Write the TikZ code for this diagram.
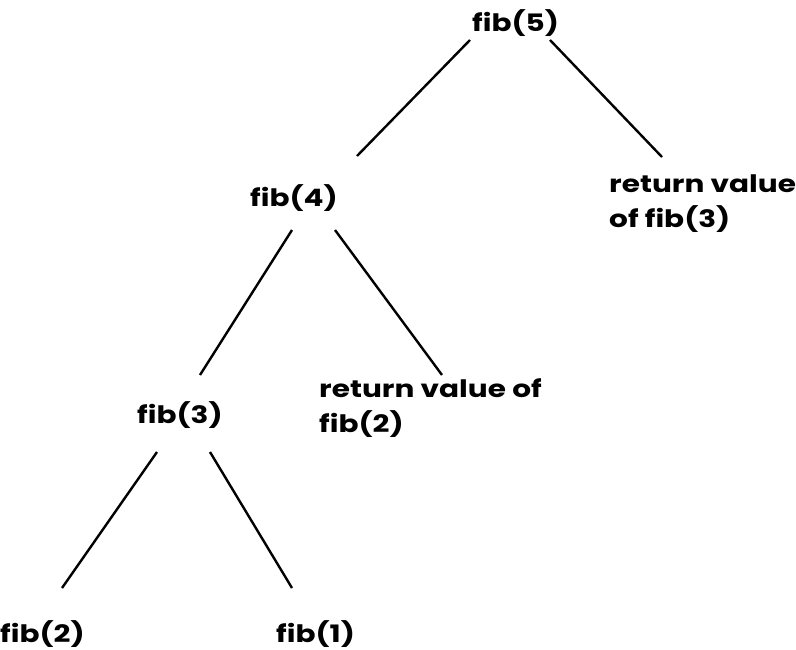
\documentclass[tikz,border=0pt]{standalone}
\usepackage{fontspec}
\setmainfont{Poppins}[BoldFont={* Bold},BoldFeatures={FakeStretch=1.23}]
\begin{document}
\begin{tikzpicture}[x=1pt,y=-1pt,
  lbl/.style={anchor=base west,inner sep=0pt,font=\bfseries\fontsize{24}{35}\selectfont,align=left},
  edge/.style={line width=2.4pt,black}]
\useasboundingbox (0,0) rectangle (796,649);
\node[lbl] (f5) at (472,31) {fib(5)};
\node[lbl] (f4) at (250,206) {fib(4)};
\node[lbl,anchor=north west] (r3) at (609,175) {return value\\of fib(3)};
\node[lbl] (f3) at (137,423) {fib(3)};
\node[lbl,anchor=north west] (r2) at (319,378) {return value of\\fib(2)};
\node[lbl] (f2) at (0,642) {fib(2)};
\node[lbl] (f1) at (276,642) {fib(1)};
\coordinate (a1) at (470,40); \coordinate (a2) at (357,156);
\coordinate (b1) at (550,40); \coordinate (b2) at (662,157);
\coordinate (c1) at (292,230); \coordinate (c2) at (200,375);
\coordinate (d1) at (335,230); \coordinate (d2) at (442,375);
\coordinate (e1) at (157,452); \coordinate (e2) at (62,588);
\coordinate (g1) at (210,452); \coordinate (g2) at (292,588);
\draw[edge] (a1) -- (a2);
\draw[edge] (b1) -- (b2);
\draw[edge] (c1) -- (c2);
\draw[edge] (d1) -- (d2);
\draw[edge] (e1) -- (e2);
\draw[edge] (g1) -- (g2);
\end{tikzpicture}
\end{document}
